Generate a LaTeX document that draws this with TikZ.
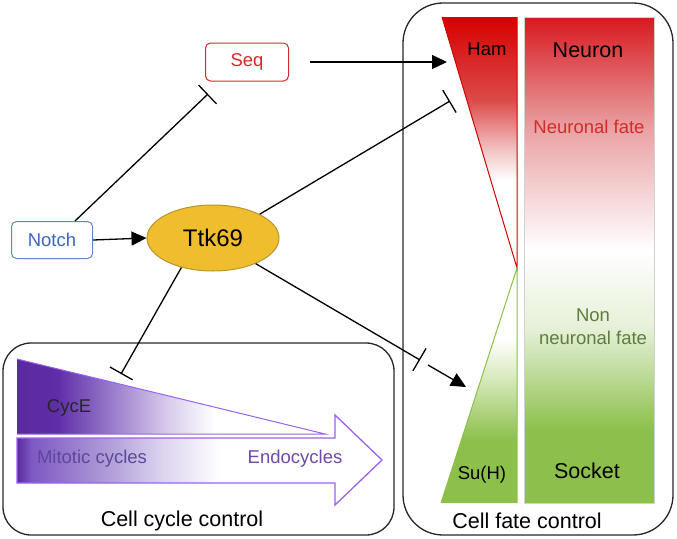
\documentclass[tikz,border=0pt]{standalone}
\usepackage{fontspec}
\setmainfont{Liberation Sans}
\usetikzlibrary{arrows.meta,positioning,shapes.geometric}

\definecolor{hamred}{HTML}{D50000}
\definecolor{hammid}{HTML}{DC4A4A}
\definecolor{hampink}{HTML}{F2C4C4}
\definecolor{fatered}{HTML}{D7191F}
\definecolor{fatepink}{HTML}{E9A2A4}
\definecolor{fatelight}{HTML}{E6F0D8}
\definecolor{suhgreen}{HTML}{8CC04B}
\definecolor{suhlight}{HTML}{D4E8B8}
\definecolor{nongreen}{HTML}{5E7D3A}
\definecolor{cycdark}{HTML}{5A2B9C}
\definecolor{cycdeep}{HTML}{5F2DA8}
\definecolor{cycmid}{HTML}{9A7CCB}
\definecolor{cyclight}{HTML}{D5C8EA}
\definecolor{shaftmid}{HTML}{7E58C4}
\definecolor{shaftlight}{HTML}{B4A4DA}
\definecolor{shaftpale}{HTML}{DDD4F0}
\definecolor{cycline}{HTML}{9A63EE}
\definecolor{mitgray}{HTML}{5C4898}
\definecolor{endopurple}{HTML}{7048A8}
\definecolor{seqred}{HTML}{D42A2A}
\definecolor{notchblue}{HTML}{3A66B8}
\definecolor{ttkfill}{HTML}{F0BD2F}
\definecolor{ttkline}{HTML}{B8942A}

\pgfdeclareverticalshading{hamshade}{100bp}{color(0bp)=(white); color(42.5bp)=(white);
  color(48.5bp)=(hampink); color(58.5bp)=(hammid); color(75bp)=(hamred); color(100bp)=(hamred)}
\pgfdeclareverticalshading{suhshade}{100bp}{color(0bp)=(suhgreen); color(38.5bp)=(suhgreen);
  color(51bp)=(suhlight); color(60bp)=(white); color(100bp)=(white)}
\pgfdeclareverticalshading{fateshade}{100bp}{color(0bp)=(suhgreen); color(32.5bp)=(suhgreen);
  color(43bp)=(fatelight); color(51bp)=(white); color(63.5bp)=(fatepink); color(75bp)=(fatered);
  color(100bp)=(fatered)}
\pgfdeclarehorizontalshading{cycshade}{100bp}{color(0bp)=(cycdark); color(25bp)=(cycdark);
  color(31.5bp)=(cycdeep); color(40.5bp)=(cycmid); color(49bp)=(cyclight); color(57bp)=(white);
  color(100bp)=(white)}
\pgfdeclarehorizontalshading{shaftshade}{100bp}{color(0bp)=(cycdark); color(25bp)=(cycdark);
  color(27bp)=(shaftmid); color(38.5bp)=(shaftlight); color(45bp)=(shaftpale); color(53bp)=(white);
  color(100bp)=(white)}

\begin{document}
\begin{tikzpicture}
  [
   x=1pt, y=-1pt,
   every node/.style={inner sep=0pt},
   gene/.style={draw,rounded corners=5pt,line width=1pt,minimum width=83pt,minimum height=38pt,
     font=\fontsize{18.5}{22}\selectfont},
   lbl/.style={font=\fontsize{18.5}{23}\selectfont},
   big/.style={font=\fontsize{21.5}{26}\selectfont},
   act/.style={line width=1.3pt,-{Triangle[length=15pt,width=14pt]}},
   inh/.style={line width=1.3pt,-{Bar[width=26pt,line width=1.3pt]}},
   panel/.style={draw=black!85,line width=1.3pt}
  ]
   \useasboundingbox (0,0) rectangle (677,538);

   % panels
   \draw[panel,rounded corners=40pt] (403,3) rectangle (673,535);
   \draw[panel,rounded corners=28pt] (3,343) rectangle (394,535);

   % cell fate
   \shade[shading=fateshade,draw=black!18,line width=0.8pt] (524,17) rectangle (654,503);
   \shade[shading=hamshade] (442,17) -- (517,17) -- (517,268) -- cycle;
   \draw[hamred,line width=1pt] (442,17) -- (517,268) -- (517,17);
   \shade[shading=suhshade] (517,268) -- (517,503) -- (441,503) -- cycle;
   \draw[suhgreen,line width=1pt] (441,503) -- (517,268) -- (517,503);

   % cell cycle
   \shade[shading=cycshade] (17,359) -- (325,434) -- (17,434) -- cycle;
   \draw[cycline,line width=1pt] (17,359) -- (325,434) -- (17,434);
   \shade[shading=shaftshade,draw=cycline,line width=1.3pt]
     (17,438) -- (335,438) -- (335,415) -- (382,460) -- (335,505) -- (335,483) -- (17,483) -- cycle;

   % nodes
   \node[gene,draw=seqred,text=seqred] (seq) at (247,62) {Seq};
   \node[gene,draw=notchblue!80,text=notchblue,minimum width=81pt,minimum height=37pt] (notch) at (52,240) {Notch};
   \node[ellipse,draw=ttkline,fill=ttkfill,line width=1pt,minimum width=132pt,minimum height=66pt,
     font=\fontsize{24}{28}\selectfont] (ttk) at (213,238) {Ttk69};

   \node[lbl] (ham) at (487,49) {Ham};
   \node[big] (neuron) at (588,50) {Neuron};
   \node[lbl,text=seqred] (neurfate) at (589,127) {Neuronal fate};
   \node[lbl,text=nongreen,align=center] (nonneur) at (593,327) {Non\\neuronal fate};
   \node[lbl] (suh) at (482,475) {Su(H)};
   \node[big] (socket) at (587,471) {Socket};
   \node[big] (fatectl) at (527,521) {Cell fate control};

   \node[lbl,text=black!85] (cyce) at (69,408) {CycE};
   \node[lbl,text=mitgray] (mitotic) at (92,459) {Mitotic cycles};
   \node[lbl,text=endopurple] (endo) at (295,459) {Endocycles};
   \node[big] (cyclectl) at (182,521) {Cell cycle control};

   % ends of connectors
   \coordinate (hamtip) at (447,62);
   \coordinate (seqbar) at (208,94);
   \coordinate (hambar) at (450,101);
   \coordinate (cycbar) at (121,374);
   \coordinate (suhbar) at (420,360);
   \coordinate (suhgap) at (428,365);
   \coordinate (suhtip) at (466,387);

   % connectors
   \draw[act] (notch.east) -- (ttk.west);
   \draw[act,shorten <=21pt] (seq.east) -- (hamtip);
   \draw[inh] ([xshift=23pt]notch.north) -- (seqbar);
   \draw[inh] (ttk.27) -- (hambar);
   \draw[inh] (ttk.223) -- (cycbar);
   \draw[inh] (ttk.-31) -- (suhbar);
   \draw[act] (suhgap) -- (suhtip);

\end{tikzpicture}
\end{document}
